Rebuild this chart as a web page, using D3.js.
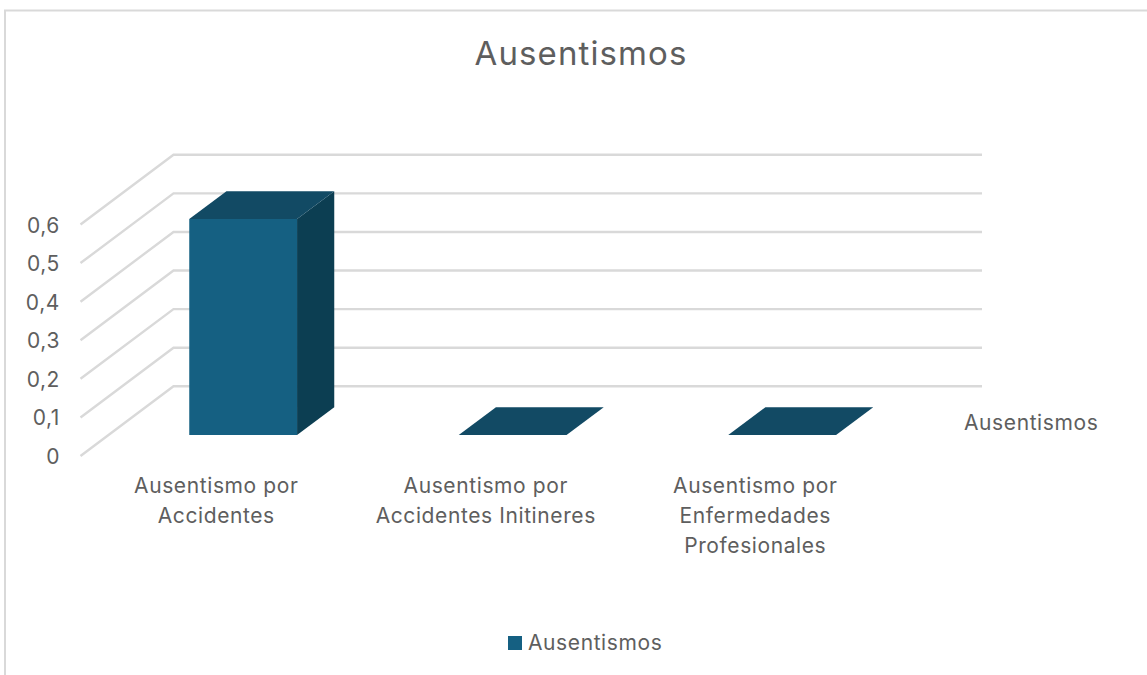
<!DOCTYPE html>
<html>
<head>
<meta charset="utf-8">
<script src="https://cdn.jsdelivr.net/npm/d3@7/dist/d3.min.js"></script>
<style>
  html, body { margin: 0; padding: 0; background: #fff; }
  svg { display: block; }
  text { font-family: "Inter", "Noto Sans", sans-serif; fill: #5e5e5e; }
</style>
</head>
<body>
<svg id="chart" width="1147" height="675"></svg>
<script>
// Chart content
const chartTitle = "Ausentismos";
const seriesName = "Ausentismos";
const categories = ["Accidentes", "Initineres", "Enfermedades"];
const categoryLines = [
  ["Ausentismo por", "Accidentes"],
  ["Ausentismo por", "Accidentes Initineres"],
  ["Ausentismo por", "Enfermedades", "Profesionales"]
];
const values = [0.56, 0, 0];
const valueTicks = [0, 0.1, 0.2, 0.3, 0.4, 0.5, 0.6];

// Colours of the box faces and the furniture
const frontColor = "#156082";
const topColor = "#124a64";
const sideColor = "#0c3e52";
const gridColor = "#d9d9d9";
const labelSize = 21;
const labelSpacing = "0.6px";

const svg = d3.select("#chart");

// Front plane of the 3D box: category along x, value along y
const x = d3.scaleBand().domain(categories).range([80.5, 889]);
const y = d3.scaleLinear().domain([0, 0.6]).range([456, 224.5]);

// Depth runs from the front plane (0) to the back wall (1)
const depthX = d3.scaleLinear().domain([0, 1]).range([0, 93]);
const depthY = d3.scaleLinear().domain([0, 1]).range([0, -69.7]);
const barDepthStart = 0.3;
const barDepthEnd = 0.7;
const barWidthShare = 0.4;

const project = (px, value, depth) => [px + depthX(depth), y(value) + depthY(depth)];
const poly = pts => pts.map(p => p.join(",")).join(" ");

// Chart frame: top and left edges only
svg.append("path")
  .attr("d", "M5,675 V10.5 H1147")
  .attr("fill", "none")
  .attr("stroke", gridColor)
  .attr("stroke-width", 2);

// Gridlines: along the side wall, then across the back wall
const grid = svg.append("g").attr("class", "grid");
grid.selectAll("polyline").data(valueTicks).join("polyline")
  .attr("points", d => poly([
    project(x.range()[0], d, 0),
    project(x.range()[0], d, 1),
    project(x.range()[1], d, 1)
  ]))
  .attr("fill", "none")
  .attr("stroke", gridColor)
  .attr("stroke-width", 2.4);

// Value axis, drawn by d3 at the front plane
const yAxis = svg.append("g")
  .attr("transform", "translate(60,0)")
  .call(d3.axisLeft(y).tickValues(valueTicks).tickSize(0).tickPadding(0)
    .tickFormat(d => d3.format(".1f")(d).replace(".", ",").replace(/^0,0$/, "0")));
yAxis.select(".domain").remove();
yAxis.attr("font-family", null);
yAxis.selectAll("text")
  .attr("font-size", labelSize)
  .attr("letter-spacing", labelSpacing)
  .attr("dy", "0.36em");

// One box per category: side and top faces behind the front face
const bars = svg.append("g").attr("class", "bars")
  .selectAll("g").data(categories.map((c, i) => ({ c, v: values[i] }))).join("g");

const barLeft = d => x(d.c) + x.bandwidth() / 2 - x.bandwidth() * barWidthShare / 2;
const barRight = d => barLeft(d) + x.bandwidth() * barWidthShare;

bars.append("polygon").attr("fill", sideColor).attr("points", d => poly([
  project(barRight(d), 0, barDepthStart),
  project(barRight(d), 0, barDepthEnd),
  project(barRight(d), d.v, barDepthEnd),
  project(barRight(d), d.v, barDepthStart)
]));
bars.append("polygon").attr("fill", topColor).attr("points", d => poly([
  project(barLeft(d), d.v, barDepthStart),
  project(barLeft(d), d.v, barDepthEnd),
  project(barRight(d), d.v, barDepthEnd),
  project(barRight(d), d.v, barDepthStart)
]));
bars.append("polygon").attr("fill", frontColor).attr("points", d => poly([
  project(barLeft(d), 0, barDepthStart),
  project(barRight(d), 0, barDepthStart),
  project(barRight(d), d.v, barDepthStart),
  project(barLeft(d), d.v, barDepthStart)
]));

// Category labels, wrapped over up to three lines
const labels = svg.append("g").attr("class", "category-labels")
  .selectAll("text").data(categories).join("text")
  .attr("text-anchor", "middle")
  .attr("font-size", labelSize)
  .attr("letter-spacing", labelSpacing);
labels.selectAll("tspan").data((d, i) => categoryLines[i].map(line => ({ line, c: d }))).join("tspan")
  .attr("x", d => x(d.c) + x.bandwidth() / 2 + 1)
  .attr("y", (d, i) => 493 + i * 30)
  .text(d => d.line);

// Title
svg.append("text")
  .attr("x", 581).attr("y", 65)
  .attr("text-anchor", "middle")
  .attr("font-size", 33)
  .attr("letter-spacing", "1.1px")
  .text(chartTitle);

// Series name on the depth axis
svg.append("text")
  .attr("x", 964).attr("y", 430)
  .attr("font-size", labelSize)
  .attr("letter-spacing", labelSpacing)
  .text(seriesName);

// Legend
svg.append("rect")
  .attr("x", 508).attr("y", 636)
  .attr("width", 14).attr("height", 14)
  .attr("fill", frontColor);
svg.append("text")
  .attr("x", 528).attr("y", 650)
  .attr("font-size", labelSize)
  .attr("letter-spacing", labelSpacing)
  .text(seriesName);
</script>
</body>
</html>
